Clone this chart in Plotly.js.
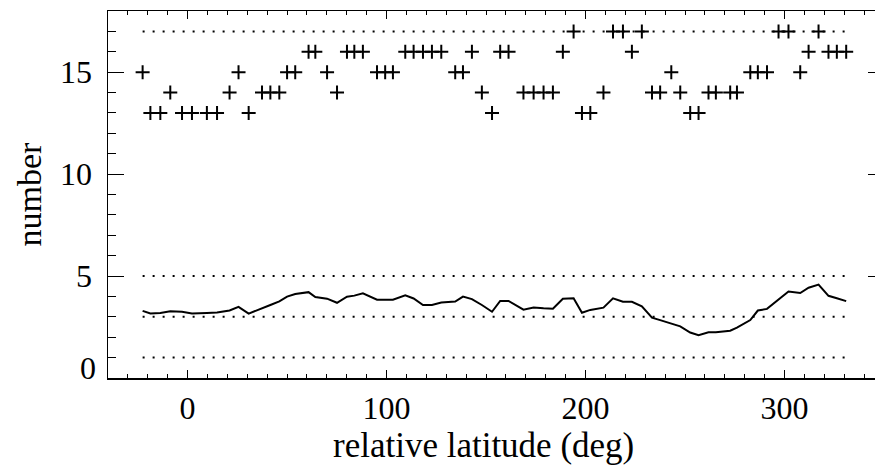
<!DOCTYPE html>
<html>
<head>
<meta charset="utf-8">
<script src="https://cdn.plot.ly/plotly-3.0.1.min.js"></script>
<style>
  html, body { margin: 0; padding: 0; overflow: hidden; background: #fff; }
  #chart { width: 890px; height: 466px; }
</style>
</head>
<body>
<div id="chart"></div>
<script>
// relative latitude (deg) of each sample
const latitude = [-22.6,-18.7,-13.7,-8.7,-2.8,2.2,9.7,14.8,21.1,25.6,30.7,37.4,41.6,46.1,50.0,54.1,60.8,64.2,70.1,75.1,
  80.1,83.8,88.1,95.2,99.3,103.2,109.4,113.6,118.3,122.8,127.5,134.5,138.4,142.9,147.9,153.0,157.1,161.3,168.8,173.9,
  178.9,183.6,188.6,194.0,198.2,202.4,209.0,213.8,218.8,223.3,228.3,233.4,237.5,243.1,247.6,252.6,256.8,261.8,265.5,272.7,
  276.1,282.8,286.6,291.2,297.0,302.0,307.9,312.1,317.1,322.1,326.3,331.0];
// plotted as "+" symbols
const countValues = [15,13,13,14,13,13,13,13,14,15,13,14,14,14,15,15,16,16,15,14,
  16,16,16,15,15,15,16,16,16,16,16,15,15,16,14,13,16,16,14,14,
  14,14,16,17,13,13,14,17,17,16,17,14,14,15,14,13,13,14,14,14,
  14,15,15,15,17,17,15,16,17,16,16,16];
// plotted as solid line
const lineValues = [3.29,3.16,3.19,3.27,3.25,3.16,3.19,3.21,3.31,3.49,3.16,3.40,3.58,3.76,3.99,4.12,4.21,3.97,3.89,3.69,
  3.99,4.04,4.15,3.84,3.84,3.84,4.05,3.90,3.58,3.58,3.70,3.75,3.99,3.87,3.58,3.25,3.78,3.78,3.35,3.46,
  3.42,3.40,3.89,3.91,3.20,3.34,3.45,3.91,3.74,3.74,3.52,2.96,2.84,2.65,2.53,2.23,2.10,2.24,2.24,2.32,
  2.47,2.84,3.31,3.39,3.84,4.24,4.17,4.43,4.58,4.03,3.91,3.77];
// dotted reference levels
const referenceLevels = [1, 3, 5, 17];
const xTickValues = [0, 100, 200, 300];
const yTickValues = [0, 5, 10, 15];
const xAxisTitle = "relative latitude (deg)";
const yAxisTitle = "number";

const serif = "Liberation Serif, Times New Roman, serif";
const xFirst = latitude[0], xLast = latitude[latitude.length - 1];

const traces = referenceLevels.map(level => ({
  type: "scatter", mode: "lines",
  x: [xFirst, xLast], y: [level, level],
  line: { color: "#000", width: 2, dash: "2px,8px" },
  hoverinfo: "skip", showlegend: false
}));
traces.push({
  type: "scatter", mode: "lines",
  x: latitude, y: lineValues,
  line: { color: "#000", width: 2 },
  showlegend: false
});
traces.push({
  type: "scatter", mode: "markers",
  x: latitude, y: countValues,
  marker: { symbol: "cross-thin", size: 10, color: "#000", line: { color: "#000", width: 2 } },
  showlegend: false
});

// the lowest y label sits just above the bottom axis line in the reference
const yLabels = yTickValues.map(v => v === yTickValues[0] ? "" : String(v));

const layout = {
  width: 890, height: 466,
  margin: { l: 108, r: 6, t: 11, b: 88 },
  paper_bgcolor: "#fff", plot_bgcolor: "#fff",
  font: { family: serif, color: "#000" },
  showlegend: false,
  xaxis: {
    range: [-40, 350],
    tickvals: xTickValues, ticktext: xTickValues.map(String),
    ticks: "inside", ticklen: 8, tickwidth: 1, tickcolor: "#000",
    minor: { dtick: 10, tick0: 0, ticks: "inside", ticklen: 4, tickwidth: 1, tickcolor: "#000", showgrid: false },
    showline: true, linecolor: "#000", linewidth: 1.5, mirror: "allticks",
    showgrid: false, zeroline: false,
    tickfont: { family: serif, size: 32, color: "#000" },
    ticklabelstandoff: 1
  },
  yaxis: {
    range: [0, 18],
    tickvals: yTickValues, ticktext: yLabels,
    ticks: "inside", ticklen: 16, tickwidth: 1, tickcolor: "#000",
    minor: { dtick: 1, tick0: 0, ticks: "inside", ticklen: 8, tickwidth: 1, tickcolor: "#000", showgrid: false },
    showline: true, linecolor: "#000", linewidth: 1.5, mirror: "allticks",
    showgrid: false, zeroline: false,
    tickfont: { family: serif, size: 32, color: "#000" },
    ticklabelstandoff: 8,
    title: { text: yAxisTitle, font: { family: serif, size: 34, color: "#000" }, standoff: 8 }
  },
  annotations: [
    {
      xref: "paper", yref: "y", x: 0, y: yTickValues[0],
      xanchor: "right", yanchor: "bottom", xshift: -10, yshift: -10,
      text: String(yTickValues[0]), showarrow: false,
      font: { family: serif, size: 32, color: "#000" }
    },
    {
      xref: "paper", yref: "paper", x: 0.5, y: 0,
      xanchor: "center", yanchor: "middle", xshift: -13, yshift: -67,
      text: xAxisTitle, showarrow: false,
      font: { family: serif, size: 35, color: "#000" }
    }
  ]
};

Plotly.newPlot("chart", traces, layout, { displayModeBar: false, staticPlot: true });
</script>
</body>
</html>
